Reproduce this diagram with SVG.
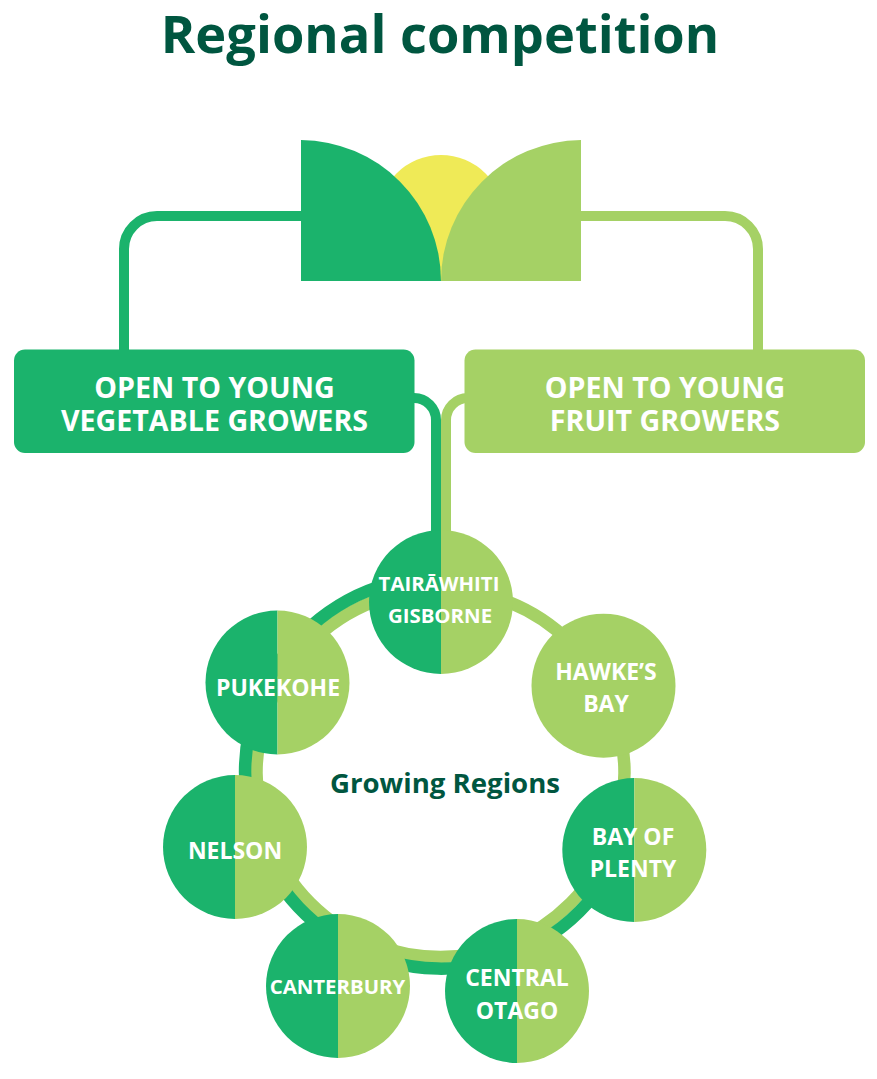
<svg xmlns="http://www.w3.org/2000/svg" width="877" height="1079" viewBox="0 0 877 1079">
<style>
.d{fill:#1bb36c}.l{fill:#a5d165}
.cd{fill:none;stroke:#1bb36c}.cl{fill:none;stroke:#a5d165}
text{font-family:"Open Sans","Noto Sans",sans-serif;font-weight:700;text-anchor:middle}
.t{fill:#fff;font-size:23px}.s{fill:#fff;font-size:20.4px}.b{fill:#fff;font-size:28.600px}
.h{fill:#005640}
</style>
<rect width="877" height="1079" fill="#fff"/>
<text id="title" class="h" x="440" y="53" style="font-size:52.400px">Regional competition</text>
<g id="connectors">
<path class="cd" stroke-width="10" d="M305,216H157A33,33 0 0 0 124,249V352"/>
<path class="cl" stroke-width="10" d="M577,216H725A33,33 0 0 1 758,249V352"/>
<path class="cd" stroke-width="10" d="M410,398H414A22,22 0 0 1 436,420V535"/>
<path class="cl" stroke-width="10" d="M470,398H468A22,22 0 0 0 446,420V535"/>
<circle class="cl" stroke-width="12.500" cx="440.500" cy="773" r="184"/>
<path class="cd" stroke-width="12.500" d="M601,886A196,196 0 1 1 400,581"/>
</g>
<g id="logo">
<circle cx="441" cy="218" r="63" fill="#efea57"/>
<path class="d" d="M301,140A141,141 0 0 1 441,281H301Z"/>
<path class="l" d="M581,140A141,141 0 0 0 441,281H581Z"/>
</g>
<g id="vegetable">
<rect class="d" x="14" y="349.500" width="400.500" height="103.500" rx="11"/>
<text class="b" x="214.500" y="397.500">OPEN TO YOUNG</text>
<text class="b" x="214.500" y="430.500">VEGETABLE GROWERS</text>
</g>
<g id="fruit">
<rect class="l" x="464.500" y="349.500" width="400.500" height="103.500" rx="11"/>
<text class="b" x="665" y="397.500">OPEN TO YOUNG</text>
<text class="b" x="665" y="430.500">FRUIT GROWERS</text>
</g>
<g id="tairawhiti">
<path class="d" d="M441,530A72,72 0 0 0 441,674Z"/><path class="l" d="M441,530A72,72 0 0 1 441,674Z"/>
<text class="s" x="439" y="591">TAIRĀWHITI</text><text class="s" x="440" y="623">GISBORNE</text>
</g>
<g id="hawkes-bay">
<circle class="l" cx="603.500" cy="685.700" r="72"/>
<text class="t" x="606" y="679.500">HAWKE’S</text><text class="t" x="606" y="711.500">BAY</text>
</g>
<g id="bay-of-plenty">
<path class="d" d="M634.300,778A72,72 0 0 0 634.300,922Z"/><path class="l" d="M634.300,778A72,72 0 0 1 634.300,922Z"/>
<text class="t" x="633" y="844.500">BAY OF</text><text class="t" x="633" y="876.500">PLENTY</text>
</g>
<g id="central-otago">
<path class="d" d="M517,919A72,72 0 0 0 517,1063Z"/><path class="l" d="M517,919A72,72 0 0 1 517,1063Z"/>
<text class="t" x="517" y="986">CENTRAL</text><text class="t" x="517" y="1019">OTAGO</text>
</g>
<g id="canterbury">
<path class="d" d="M338,914A72,72 0 0 0 338,1058Z"/><path class="l" d="M338,914A72,72 0 0 1 338,1058Z"/>
<text class="s" x="337.500" y="994">CANTERBURY</text>
</g>
<g id="nelson">
<path class="d" d="M235,775A72,72 0 0 0 235,919Z"/><path class="l" d="M235,775A72,72 0 0 1 235,919Z"/>
<text class="t" x="235" y="859">NELSON</text>
</g>
<g id="pukekohe">
<path class="d" d="M277.500,610.500A72,72 0 0 0 277.500,754.500Z"/><path class="l" d="M277.500,610.500A72,72 0 0 1 277.500,754.500Z"/>
<text class="t" x="278" y="696">PUKEKOHE</text>
</g>
<text id="growing-regions" class="h" x="445" y="793" style="font-size:27.600px">Growing Regions</text>
</svg>
